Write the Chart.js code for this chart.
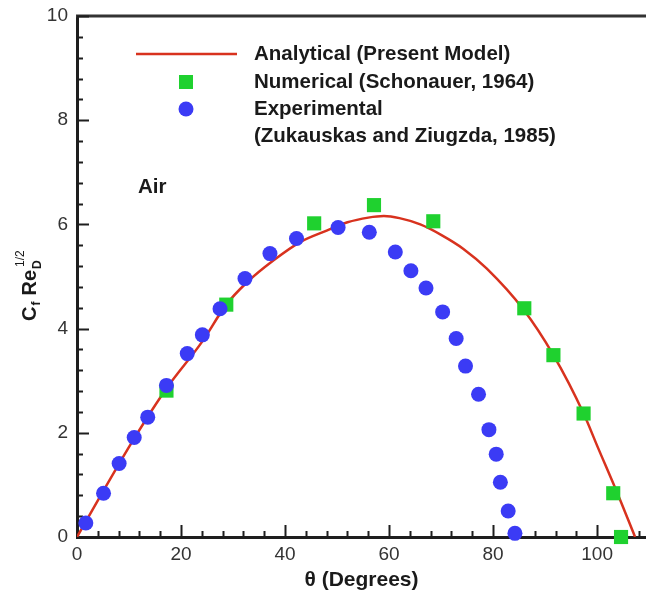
<!DOCTYPE html>
<html>
<head>
<meta charset="utf-8">
<script src="https://cdn.jsdelivr.net/npm/chart.js@4/dist/chart.umd.min.js"></script>
<style>
html,body{margin:0;padding:0;overflow:hidden;background:#fff;}
canvas{display:block;}
</style>
</head>
<body>
<canvas id="c" width="646" height="594"></canvas>
<script>
// Analytical (Present Model) curve samples
const lineTheta = [0,4.4,10.8,17.2,24,28.7,32.6,37.8,42.9,48,52,56,59,62,66,70,74.3,78.8,85.8,91.6,97.4,100.1,103.9,107.3];
const lineCf    = [0,0.77,1.86,2.85,3.74,4.46,4.88,5.31,5.66,5.88,6.04,6.13,6.16,6.12,6.0,5.8,5.53,5.15,4.37,3.49,2.37,1.73,0.84,0];
// Numerical (Schonauer, 1964)
const numTheta = [17.2,28.7,45.6,57.1,68.5,86.0,91.6,97.4,103.1,104.6];
const numCf    = [2.81,4.46,6.02,6.37,6.06,4.39,3.49,2.37,0.84,0];
// Experimental (Zukauskas and Ziugzda, 1985)
const expTheta = [1.7,5.1,8.1,11.0,13.6,17.2,21.2,24.1,27.5,32.3,37.1,42.2,50.2,56.2,61.2,64.2,67.1,70.3,72.9,74.7,77.2,79.2,80.6,81.4,82.9,84.2];
const expCf    = [0.27,0.84,1.41,1.91,2.3,2.91,3.52,3.88,4.38,4.96,5.44,5.73,5.94,5.85,5.47,5.11,4.78,4.32,3.81,3.28,2.74,2.06,1.59,1.05,0.50,0.07];
// Axis ticks
const xMajorTicks = [0,20,40,60,80,100];
const xMinorStep = 4;
const yMajorTicks = [0,2,4,6,8,10];
const yMinorStep = 0.4;
const legendLabels = ["Analytical (Present Model)","Numerical (Schonauer, 1964)","Experimental","(Zukauskas and Ziugzda, 1985)"];
const annotationText = "Air";

const RED = '#d8321e', GREEN = '#1fd12f', BLUE = '#3b3bf5', AXIS = '#1e1e1e';
const FONT = '"Liberation Sans", Arial, Helvetica, sans-serif';

const zip = (a,b) => a.map((v,i)=>({x:v,y:b[i]}));

const decor = {
  id:'decor',
  beforeDatasetsDraw(chart){
    const {ctx, chartArea:ca, scales:{x, y}} = chart;
    ctx.save();
    ctx.strokeStyle = '#333'; ctx.lineWidth = 3;
    ctx.beginPath(); ctx.moveTo(ca.left-1, ca.top); ctx.lineTo(chart.width, ca.top); ctx.stroke();
    ctx.strokeStyle = AXIS; ctx.lineWidth = 2;
    ctx.beginPath();
    for (let v = 0; v <= x.max + 1e-9; v += xMinorStep) {
      const px = Math.round(x.getPixelForValue(v)) + 0.5;
      const major = xMajorTicks.some(t => Math.abs(t - v) < 1e-6);
      ctx.moveTo(px, ca.bottom); ctx.lineTo(px, ca.bottom - (major ? 12 : 6));
    }
    for (let k = 0; k * yMinorStep <= y.max + 1e-9; k++) {
      const v = k * yMinorStep;
      const py = Math.round(y.getPixelForValue(v)) + 0.5;
      const major = yMajorTicks.some(t => Math.abs(t - v) < 1e-6);
      ctx.moveTo(ca.left, py); ctx.lineTo(ca.left + (major ? 12 : 6), py);
    }
    ctx.stroke();
    ctx.restore();
  },
  afterDraw(chart){
    const {ctx} = chart;
    ctx.save();
    const lx = 136, tx = 254, rows = [54, 82, 109, 136];
    ctx.strokeStyle = RED; ctx.lineWidth = 2.5;
    ctx.beginPath(); ctx.moveTo(lx, rows[0]); ctx.lineTo(237, rows[0]); ctx.stroke();
    ctx.fillStyle = GREEN; ctx.fillRect(186-7, rows[1]-7, 14, 14);
    ctx.fillStyle = BLUE; ctx.beginPath(); ctx.arc(186, rows[2], 7.5, 0, Math.PI*2); ctx.fill();
    ctx.fillStyle = '#1a1a1a';
    ctx.font = 'bold 20.5px ' + FONT; ctx.textBaseline = 'middle'; ctx.textAlign = 'left';
    legendLabels.forEach((t,i) => ctx.fillText(t, tx, rows[i]));
    ctx.fillText(annotationText, 138, 187);

    // y-axis title: C_f Re_D^{1/2}
    ctx.translate(36, 321); ctx.rotate(-Math.PI/2);
    ctx.textBaseline = 'alphabetic';
    let cx = 0;
    ctx.font = 'bold 20px ' + FONT; ctx.fillText('C', cx, 0); cx += ctx.measureText('C').width;
    ctx.font = 'bold 12px ' + FONT; ctx.fillText('f', cx + 1, 4); cx += ctx.measureText('f').width + 7;
    ctx.font = 'bold 20px ' + FONT; ctx.fillText('Re', cx, 0); cx += ctx.measureText('Re').width + 1;
    ctx.font = 'bold 12px ' + FONT; ctx.fillText('D', cx, 5);
    ctx.font = '12px ' + FONT; ctx.fillText('1/2', cx + 2, -12);
    ctx.restore();
  }
};

new Chart(document.getElementById('c'), {
  type: 'scatter',
  data: {
    datasets: [
      { label: legendLabels[2], data: zip(expTheta, expCf), order: 0, clip: false,
        pointStyle: 'circle', pointRadius: 7.5, pointHoverRadius: 7.5,
        backgroundColor: BLUE, borderColor: BLUE, borderWidth: 0 },
      { label: legendLabels[1], data: zip(numTheta, numCf), order: 1, clip: false,
        pointStyle: 'rect', pointRadius: 10, pointHoverRadius: 10,
        backgroundColor: GREEN, borderColor: GREEN, borderWidth: 0 },
      { label: legendLabels[0], data: zip(lineTheta, lineCf), order: 2, type: 'line',
        showLine: true, pointRadius: 0, borderColor: RED, borderWidth: 2.5,
        cubicInterpolationMode: 'monotone', fill: false }
    ]
  },
  options: {
    responsive: false, animation: false, devicePixelRatio: 1,
    layout: { autoPadding: false, padding: { left: 0, top: 16, right: 0, bottom: 0 } },
    plugins: { legend: { display: false }, tooltip: { enabled: false } },
    scales: {
      x: {
        type: 'linear', min: 0, max: 109.4,
        afterFit: s => { s.height = 57; s.paddingLeft = 0; s.paddingRight = 0; },
        afterBuildTicks: s => { s.ticks = xMajorTicks.map(v => ({ value: v })); },
        grid: { display: false, drawTicks: false },
        border: { display: true, color: AXIS, width: 3 },
        ticks: { padding: 6, color: '#333', font: { family: FONT, size: 19 } },
        title: { display: true, text: 'θ (Degrees)', color: '#1a1a1a',
                 font: { family: FONT, size: 21, weight: 'bold' }, padding: { top: 0, bottom: 1 } }
      },
      y: {
        type: 'linear', min: 0, max: 10,
        afterFit: s => { s.width = 77; s.paddingTop = 0; s.paddingBottom = 0; },
        afterBuildTicks: s => { s.ticks = yMajorTicks.map(v => ({ value: v })); },
        grid: { display: false, drawTicks: false },
        border: { display: true, color: AXIS, width: 3 },
        ticks: { padding: 9, color: '#333', font: { family: FONT, size: 19 } }
      }
    }
  },
  plugins: [decor]
});
</script>
</body>
</html>
